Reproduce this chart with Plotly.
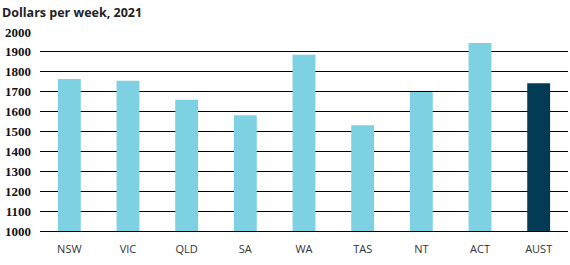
import plotly.graph_objects as go

categories = ["NSW", "VIC", "QLD", "SA", "WA", "TAS", "NT", "ACT", "AUST"]
values = [1764, 1755, 1660, 1582, 1886, 1531, 1699, 1945, 1743]
bar_colors = ["#7DD1E2"] * 8 + ["#033A56"]
y_ticks = list(range(1000, 2001, 100))

fig = go.Figure(go.Bar(x=categories, y=values, marker=dict(color=bar_colors, line=dict(width=0)),
                       width=0.39))

fig.update_layout(
    width=570, height=265,
    margin=dict(l=40, r=2, t=32, b=34),
    paper_bgcolor="white", plot_bgcolor="white",
    showlegend=False,
    annotations=[dict(text="<b>Dollars per week, 2021</b>", xref="paper", yref="paper",
                      x=-40/528, y=1 + 20/199, xanchor="left", yanchor="middle",
                      showarrow=False, font=dict(family="Open Sans", size=12.5, color="#222"))],
)
fig.update_xaxes(showgrid=False, showline=True, linecolor="black", linewidth=1.3,
                 ticks="", tickfont=dict(family="Open Sans", size=11, color="#333"),
                 ticklabelstandoff=8)
fig.update_yaxes(range=[1000, 2000], tickvals=y_ticks, showgrid=True, gridcolor="black",
                 gridwidth=1.3, zeroline=False, showline=False, ticks="",
                 tickfont=dict(family="Liberation Serif", size=13, color="#111", weight="bold"),
                 ticklabelstandoff=8)

fig.write_html("out.html")
